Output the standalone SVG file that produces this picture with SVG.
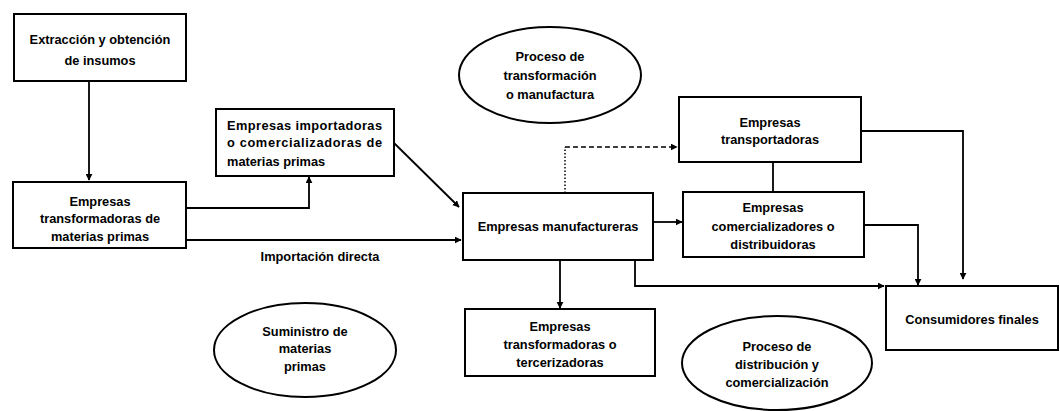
<svg xmlns="http://www.w3.org/2000/svg" width="1060" height="411" viewBox="0 0 1060 411">
<defs>
<marker id="ah" viewBox="0 0 10 10" refX="9" refY="5" markerWidth="7" markerHeight="7" markerUnits="userSpaceOnUse" orient="auto">
<path d="M0,0 L10,5 L0,10 z" fill="#000"/>
</marker>
<style>
.box{fill:#fff;stroke:#000;stroke-width:2}
.ell{fill:#fff;stroke:#000;stroke-width:2}
.t{font-family:"Liberation Sans",Arial,sans-serif;font-size:12.8px;font-weight:bold;fill:#000;text-anchor:middle}
.tl{font-family:"Liberation Sans",Arial,sans-serif;font-size:12.8px;font-weight:bold;fill:#000}
.c{fill:none;stroke:#000;stroke-width:1.8}
.dot{fill:none;stroke:#000;stroke-width:1.5;stroke-dasharray:1.5 2}
.dash{fill:none;stroke:#000;stroke-width:1.5;stroke-dasharray:5 3}
</style>
</defs>
<rect width="1060" height="411" fill="#fff"/>
<g id="connectors">
<path class="c" d="M89,81 V180" marker-end="url(#ah)"/>
<path class="c" d="M186,208 H309 V177" marker-end="url(#ah)"/>
<path class="c" d="M186,240 H461" marker-end="url(#ah)"/>
<path class="c" d="M394,143 L459,207" marker-end="url(#ah)"/>
<path class="dot" d="M565,193 V147"/>
<path class="dash" d="M565,147 H677" marker-end="url(#ah)"/>
<path class="c" d="M653,222 H682" marker-end="url(#ah)"/>
<path class="c" d="M773,162 V192"/>
<path class="c" d="M864,225 H918 V285" marker-end="url(#ah)"/>
<path class="c" d="M861,131 H963 V279" marker-end="url(#ah)"/>
<path class="c" d="M635,260 V286 H884" marker-end="url(#ah)"/>
<path class="c" d="M560,260 V308" marker-end="url(#ah)"/>
<text class="t" x="320" y="261">Importación directa</text>
</g>
<g id="n1"><rect class="box" x="14" y="14" width="172" height="67"/>
<text class="t" x="100" y="44">Extracción y obtención</text><text class="t" x="100" y="65">de insumos</text></g>
<g id="n2"><rect class="box" x="13" y="182" width="173" height="66"/>
<text class="t" x="100" y="206">Empresas</text><text class="t" x="100" y="223">transformadoras de</text><text class="t" x="100" y="241">materias primas</text></g>
<g id="n3"><rect class="box" x="216" y="109" width="178" height="67"/>
<text class="tl" x="227" y="130" textLength="155" lengthAdjust="spacing">Empresas importadoras</text>
<text class="tl" x="227" y="147" textLength="155" lengthAdjust="spacing">o comercializadoras de</text>
<text class="tl" x="227" y="166">materias primas</text></g>
<g id="n4"><rect class="box" x="463" y="193" width="190" height="67"/>
<text class="t" x="558" y="231">Empresas manufactureras</text></g>
<g id="n5"><rect class="box" x="679" y="97" width="182" height="65"/>
<text class="t" x="770" y="127">Empresas</text><text class="t" x="770" y="144">transportadoras</text></g>
<g id="n6"><rect class="box" x="683" y="192" width="181" height="65"/>
<text class="t" x="773" y="212">Empresas</text><text class="t" x="773" y="231">comercializadores o</text><text class="t" x="773" y="249">distribuidoras</text></g>
<g id="n7"><rect class="box" x="465" y="309" width="190" height="67"/>
<text class="t" x="560" y="331">Empresas</text><text class="t" x="560" y="349">transformadoras o</text><text class="t" x="560" y="367">tercerizadoras</text></g>
<g id="n8"><rect class="box" x="886" y="286" width="172" height="64"/>
<text class="t" x="972" y="324">Consumidores finales</text></g>
<g id="e1"><ellipse class="ell" cx="550" cy="75" rx="91" ry="48"/>
<text class="t" x="550" y="61">Proceso de</text><text class="t" x="550" y="80">transformación</text><text class="t" x="550" y="99">o manufactura</text></g>
<g id="e2"><ellipse class="ell" cx="305" cy="350" rx="91" ry="47"/>
<text class="t" x="305" y="336">Suministro de</text><text class="t" x="305" y="353">materias</text><text class="t" x="305" y="371">primas</text></g>
<g id="e3"><ellipse class="ell" cx="777" cy="363" rx="95" ry="47"/>
<text class="t" x="777" y="351">Proceso de</text><text class="t" x="777" y="369">distribución y</text><text class="t" x="777" y="387">comercialización</text></g>
</svg>
